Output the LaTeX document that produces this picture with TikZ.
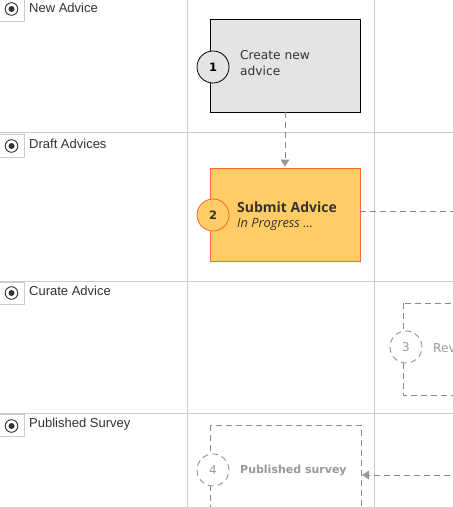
\documentclass[tikz,border=0pt]{standalone}
\usepackage{fontspec}
\setmainfont{Liberation Sans}
\newfontfamily\boxfont{DejaVu Sans}
\newfontfamily\subfont{Open Sans}
\usetikzlibrary{arrows.meta}
\definecolor{lane}{HTML}{CCCCCC}
\definecolor{txt}{HTML}{333333}
\definecolor{grayfill}{HTML}{E4E4E4}
\definecolor{orfill}{HTML}{FFCC66}
\definecolor{orline}{HTML}{FF6633}
\definecolor{dashcol}{HTML}{888888}
\definecolor{ghost}{HTML}{999999}
\tikzset{
  laneline/.style={draw=lane, line width=0.8pt},
  radiobox/.style={draw=lane, line width=0.8pt},
  lanelabel/.style={anchor=west, inner sep=0pt, text=txt, font=\fontsize{13}{15}\selectfont},
  stepnum/.style={circle, minimum size=32pt, inner sep=0pt, font=\boxfont\bfseries\fontsize{11.5}{13}\selectfont},
  conn/.style={draw=dashcol, dash pattern=on 6pt off 4pt, line width=0.8pt},
  ghostcirc/.style={stepnum, draw=dashcol, dash pattern=on 6pt off 4pt, line width=0.8pt, fill=white, text=ghost, font=\boxfont\fontsize{12}{13}\selectfont},
  arrowtip/.style={-{Triangle[length=7pt,width=9pt,color=ghost,fill=ghost,line width=0pt]}}
}
\begin{document}
\begin{tikzpicture}[x=1pt,y=-1pt]
\useasboundingbox (0,0) rectangle (453,507);
\clip (0,0) rectangle (453,507);
\fill[white] (0,0) rectangle (453,507);
% lanes
\draw[laneline] (187,0) -- (187,507);
\draw[laneline] (374,0) -- (374,507);
\foreach \y in {132,281,413} \draw[laneline] (0,\y) -- (453,\y);
% lane labels
\foreach \y/\b/\c/\ty/\t/\n in {-1/21/9/8/New Advice/l1,134/157/146/144/Draft Advices/l2,282/304/293/291/Curate Advice/l3,414/436/426/424/Published Survey/l4}{
  \draw[radiobox] (-1,\y) rectangle (24,\b);
  \draw[txt, line width=0.9pt] (11.5,\c) circle (6.3pt);
  \fill[txt] (11.5,\c) circle (3pt);
  \node[lanelabel] (\n) at (29,\ty) {\t};
}
% box 1
\node[draw=black, fill=grayfill, line width=0.8pt, minimum width=150pt, minimum height=93pt, inner sep=0pt] (b1) at (285,65.5) {};
\node[stepnum, draw=black, line width=0.8pt, fill=grayfill] (c1) at (213,67) {1};
\node[anchor=west, align=left, text=txt, inner sep=0pt, font=\boxfont\fontsize{12.2}{16}\selectfont] (t1) at (240,63) {Create new\\advice};
% box 2
\node[draw=orline, fill=orfill, line width=0.8pt, minimum width=150pt, minimum height=93pt, inner sep=0pt] (b2) at (285,214.5) {};
\node[stepnum, draw=orline, line width=0.8pt, fill=orfill, text=txt] (c2) at (213,215) {2};
\node[anchor=west, align=left, text=txt, inner sep=0pt] (t2) at (237,216) {{\subfont\bfseries\fontsize{14}{16}\selectfont Submit Advice}\\[3.5pt]{\subfont\itshape\fontsize{12.8}{16}\selectfont In Progress \dots}};
% box 3 (dashed, clipped)
\draw[conn] (403,303) rectangle (520,395);
\node[ghostcirc] (c3) at (406,347) {3};
\node[anchor=west, inner sep=0pt, text=ghost, font=\boxfont\fontsize{12.2}{13}\selectfont] (t3) at (433,348) {Review};
% box 4
\draw[conn] (210,425) rectangle (361,560);
\node[ghostcirc] (c4) at (213,470) {4};
\node[anchor=west, inner sep=0pt, text=ghost, font=\boxfont\bfseries\fontsize{11}{13}\selectfont] (t4) at (240,471) {Published survey};
\coordinate (b4e) at (362,475);
\coordinate (r4) at (460,475);
\coordinate (r2) at (460,211);
% connectors
\draw[conn, arrowtip] (b1.south) -- ([yshift=1pt]b2.north);
\draw[conn] (b2.east |- r2) -- (r2);
\draw[conn, arrowtip] (r4) -- (b4e);
\end{tikzpicture}
\end{document}
